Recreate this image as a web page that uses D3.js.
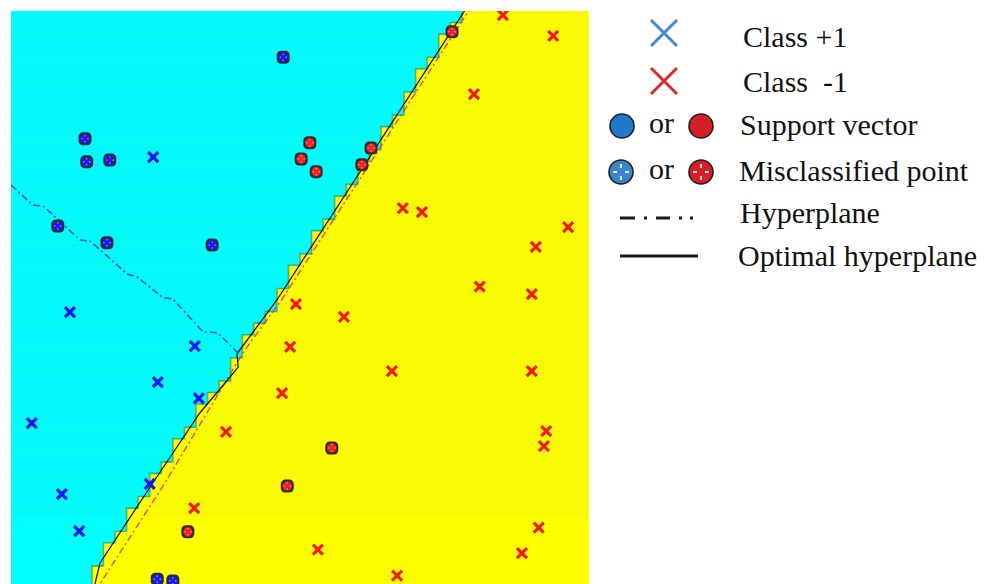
<!DOCTYPE html>
<html>
<head>
<meta charset="utf-8">
<script src="https://cdn.jsdelivr.net/npm/d3@7"></script>
<style>
  body { margin: 0; background: #fff; }
  svg { display: block; }
  text { font-family: "Liberation Serif", "Times New Roman", serif; white-space: pre; }
</style>
</head>
<body>
<svg id="chart" width="1000" height="584"></svg>
<script>
// ---- data (feature space units) ----
// Class +1 samples drawn as crosses
const classPos = [[2.46,7.47],[1.02,4.79],[3.18,4.20],[2.54,3.58],[3.25,3.30],[0.36,2.87],[0.88,1.64],[1.18,1.00],[2.40,1.82]];
// Class -1 samples drawn as crosses
const classNeg = [[8.51,9.93],[9.38,9.57],[8.01,8.56],[6.78,6.59],[7.11,6.52],[9.64,6.26],[9.08,5.92],[8.11,5.23],[9.01,5.10],
  [4.93,4.93],[5.76,4.71],[4.83,4.19],[6.59,3.77],[9.01,3.77],[4.69,3.39],[3.72,2.72],[9.26,2.73],[9.22,2.47],
  [3.17,1.40],[9.13,1.06],[8.84,0.62],[5.31,0.68],[6.68,0.23]];
// Support vectors of each class
const supportPos = [[4.71,9.20],[1.28,7.79],[1.31,7.39],[1.71,7.42],[0.81,6.28],[1.66,5.99],[3.48,5.95],[2.53,0.17],[2.80,0.14]];
const supportNeg = [[7.63,9.64],[5.17,7.72],[5.02,7.44],[5.28,7.22],[6.23,7.63],[6.07,7.34],[5.55,2.44],[4.78,1.78],[3.06,0.99]];
// Optimal separating hyperplane (decision boundary)
const optimalHyperplane = [[7.91,10.10],[4.60,5.00],[3.91,4.07],[3.93,3.84],[3.75,3.62],[3.27,3.05],[2.49,1.89],[1.54,0.45],[1.42,-0.05]];
// Candidate hyperplane (blue, dash-dot)
const hyperplaneA = [[0.00,6.99],[0.38,6.64],[0.55,6.63],[0.73,6.47],[1.19,6.04],[1.37,6.02],[1.54,5.87],[2.01,5.45],[2.18,5.40],
  [2.63,5.04],[2.80,5.02],[3.32,4.45],[3.58,4.43],[3.79,4.22],[3.91,4.10]];
// Candidate hyperplane (red, dash-dot)
const hyperplaneB = [[7.98,10.10],[4.68,5.00],[4.02,4.10],[2.66,1.83],[1.54,0.09]];
// Legend labels
const legendLabels = ["Class +1", "Class  -1", "Support vector", "Misclassified point", "Hyperplane", "Optimal hyperplane"];

// ---- layout ----
const svg = d3.select("#chart");
const plot = { left: 11, right: 589, top: 11, bottom: 589 };
const x = d3.scaleLinear().domain([0, 10]).range([plot.left, plot.right]);
const y = d3.scaleLinear().domain([0, 10]).range([plot.bottom, plot.top]);

svg.append("clipPath").attr("id", "plotClip")
  .append("rect").attr("x", plot.left).attr("y", plot.top)
  .attr("width", plot.right - plot.left).attr("height", plot.bottom - plot.top);

const g = svg.append("g").attr("clip-path", "url(#plotClip)");

// ---- decision regions on a grid ----
const nCells = 50;
const cw = (plot.right - plot.left) / nCells;
const ch = (plot.bottom - plot.top) / nCells;
const bPix = optimalHyperplane.map(d => [x(d[0]), y(d[1])]).sort((a, b) => a[1] - b[1]);
function boundaryX(py) {
  if (py <= bPix[0][1]) return bPix[0][0];
  for (let i = 1; i < bPix.length; i++) {
    if (py <= bPix[i][1]) {
      const t = (py - bPix[i-1][1]) / (bPix[i][1] - bPix[i-1][1]);
      return bPix[i-1][0] + t * (bPix[i][0] - bPix[i-1][0]);
    }
  }
  return bPix[bPix.length - 1][0];
}

g.append("rect").attr("x", plot.left).attr("y", plot.top)
  .attr("width", plot.right - plot.left).attr("height", plot.bottom - plot.top)
  .attr("fill", "#ffff00");

const rows = d3.range(nCells).map(r => {
  const top = plot.top + r * ch;
  const n = Math.max(0, Math.floor((boundaryX(top) - plot.left) / cw));
  return { top, w: n * cw };
});

g.selectAll("rect.cyan").data(rows).join("rect")
  .attr("class", "cyan")
  .attr("x", plot.left).attr("y", d => d.top)
  .attr("width", d => d.w).attr("height", ch + 0.5)
  .attr("fill", "#00ffff");

// staircase edge shading
const stair = [];
rows.forEach(d => { stair.push([plot.left + d.w, d.top]); stair.push([plot.left + d.w, d.top + ch]); });
g.append("path").attr("d", d3.line()(stair))
  .attr("fill", "none").attr("stroke", "#4a9a66").attr("stroke-width", 1.6).attr("opacity", 0.75);

// faint tint over the upper part of the plot
g.append("rect").attr("x", plot.left).attr("y", plot.top)
  .attr("width", plot.right - plot.left).attr("height", y(1.24) - plot.top)
  .attr("fill", "#707070").attr("opacity", 0.035);

// ---- hyperplanes ----
const line = d3.line().x(d => x(d[0])).y(d => y(d[1]));
g.append("path").attr("d", line(hyperplaneA))
  .attr("fill", "none").attr("stroke", "#2f4fd0").attr("stroke-width", 1.5)
  .attr("stroke-dasharray", "7,3,2,3");
g.append("path").attr("d", line(hyperplaneB))
  .attr("fill", "none").attr("stroke", "#e04a3a").attr("stroke-width", 1.4)
  .attr("stroke-dasharray", "7,3,2,3");
g.append("path").attr("d", line(optimalHyperplane))
  .attr("fill", "none").attr("stroke", "#1a1a1a").attr("stroke-width", 1.3);

// ---- markers ----
function crosses(data, color) {
  const s = 5;
  g.append("g").selectAll("path").data(data).join("path")
    .attr("d", d => {
      const cx = x(d[0]), cy = y(d[1]);
      return `M${cx-s},${cy-s}L${cx+s},${cy+s}M${cx-s},${cy+s}L${cx+s},${cy-s}`;
    })
    .attr("stroke", color).attr("stroke-width", 3.2).attr("fill", "none");
}
crosses(classPos, "#1616f2");
crosses(classNeg, "#f01c1c");

function supports(data, fill, edge) {
  const grp = g.append("g").selectAll("g").data(data).join("g")
    .attr("transform", d => `translate(${x(d[0])},${y(d[1])})`);
  grp.append("rect").attr("x", -6.5).attr("y", -6.5).attr("width", 13).attr("height", 13)
    .attr("rx", 4.5).attr("fill", edge);
  grp.append("circle").attr("r", 4.6).attr("fill", fill);
  grp.selectAll("circle.tick").data([[0,-3],[3,0],[0,3],[-3,0]]).join("circle")
    .attr("class", "tick").attr("cx", d => d[0]).attr("cy", d => d[1]).attr("r", 0.8)
    .attr("fill", "#c8c8e8").attr("opacity", 0.7);
}
supports(supportPos, "#1a1af0", "#2a2a40");
supports(supportNeg, "#ee2222", "#3a2a2a");

// ---- legend ----
const lg = svg.append("g");
const fs = 30;
function legendCross(cx, cy, color) {
  const s = 13;
  lg.append("path")
    .attr("d", `M${cx-s},${cy-s}L${cx+s},${cy+s}M${cx-s},${cy+s}L${cx+s},${cy-s}`)
    .attr("stroke", color).attr("stroke-width", 3).attr("fill", "none");
}
legendCross(664, 33, "#3f8ad0");
legendCross(664, 81, "#d42a2a");

function legendDot(cx, cy, fill, misclassified) {
  lg.append("circle").attr("cx", cx).attr("cy", cy).attr("r", 12)
    .attr("fill", fill).attr("stroke", "#1e1e1e").attr("stroke-width", 1.6);
  if (misclassified) {
    [[0,-1],[1,0],[0,1],[-1,0]].forEach(([dx, dy]) => {
      lg.append("line")
        .attr("x1", cx + dx * 4).attr("y1", cy + dy * 4)
        .attr("x2", cx + dx * 8).attr("y2", cy + dy * 8)
        .attr("stroke", "#f2f2f2").attr("stroke-width", 1.8);
    });
  }
}
legendDot(622, 126, "#1f79cc", false);
legendDot(701, 126, "#d41f26", false);
legendDot(621, 172, "#3a86cc", true);
legendDot(701, 172, "#d41f26", true);

lg.append("text").attr("x", 649).attr("y", 133).attr("font-size", fs).attr("fill", "#111").text("or");
lg.append("text").attr("x", 649).attr("y", 179).attr("font-size", fs).attr("fill", "#111").text("or");

lg.append("path").attr("d", "M620,218H698")
  .attr("stroke", "#1a1a1a").attr("stroke-width", 3.2)
  .attr("stroke-dasharray", "15,9,3,9,14,9,3,8,3,20");
lg.append("path").attr("d", "M620,256H698")
  .attr("stroke", "#1a1a1a").attr("stroke-width", 3);

const labelPos = [[743, 47], [743, 92], [740, 135], [739, 181], [740, 223], [738, 266]];
lg.selectAll("text.lab").data(legendLabels).join("text")
  .attr("class", "lab")
  .attr("x", (d, i) => labelPos[i][0]).attr("y", (d, i) => labelPos[i][1])
  .attr("font-size", fs).attr("fill", "#111").text(d => d);
</script>
</body>
</html>
